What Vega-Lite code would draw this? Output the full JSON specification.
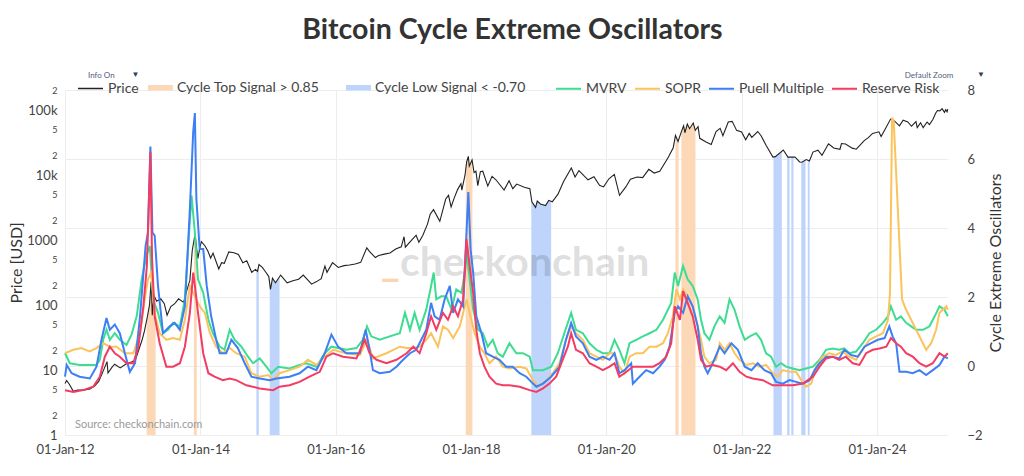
{
  "$schema": "https://vega.github.io/schema/vega-lite/v6.json",
  "width": 883,
  "height": 345,
  "autosize": {"type": "none"},
  "padding": {"left": 65, "top": 90, "right": 76, "bottom": 41},
  "background": "white",
  "title": {"text": "Bitcoin Cycle Extreme Oscillators", "font": "Lato", "fontSize": 28.5, "fontWeight": "bold", "color": "#333333", "anchor": "middle", "frame": "group", "offset": 27, "dx": 6},
  "config": {
    "view": {"stroke": null},
    "font": "Lato",
    "axis": {"labelFont": "Lato", "titleFont": "Lato"},
    "text": {"font": "Lato"},
    "legend": {"labelFont": "Lato", "labelFontSize": 14, "labelColor": "#444444", "labelOffset": 4, "padding": 0, "title": null}
  },
  "datasets": {
    "price": [
      {"d":"2012-01-01","p":6.2},{"d":"2012-01-10","p":6.9},{"d":"2012-01-25","p":6.0},{"d":"2012-02-15","p":4.7},{"d":"2012-03-10","p":4.9},{"d":"2012-04-10","p":4.9},{"d":"2012-05-15","p":5.1},{"d":"2012-06-10","p":5.7},{"d":"2012-07-01","p":6.7},{"d":"2012-07-20","p":8.9},{"d":"2012-08-15","p":13.5},{"d":"2012-08-20","p":9.0},{"d":"2012-09-10","p":11.0},{"d":"2012-09-25","p":12.3},{"d":"2012-10-25","p":10.8},{"d":"2012-11-25","p":12.4},{"d":"2012-12-25","p":13.3},
      {"d":"2013-01-15","p":14.3},{"d":"2013-02-01","p":20},{"d":"2013-02-20","p":29},{"d":"2013-03-05","p":40},{"d":"2013-03-20","p":65},{"d":"2013-04-01","p":100},{"d":"2013-04-10","p":230},{"d":"2013-04-16","p":70},{"d":"2013-04-25","p":140},{"d":"2013-05-10","p":115},{"d":"2013-06-01","p":125},{"d":"2013-06-20","p":105},{"d":"2013-07-05","p":70},{"d":"2013-07-25","p":95},{"d":"2013-08-15","p":105},{"d":"2013-09-05","p":125},{"d":"2013-10-02","p":110},{"d":"2013-10-20","p":170},{"d":"2013-11-05","p":240},{"d":"2013-11-18","p":700},{"d":"2013-11-30","p":1100},{"d":"2013-12-04","p":1150},{"d":"2013-12-18","p":520},{"d":"2013-12-28","p":740},
      {"d":"2014-01-06","p":950},{"d":"2014-01-25","p":820},{"d":"2014-02-10","p":680},{"d":"2014-02-25","p":530},{"d":"2014-03-10","p":630},{"d":"2014-04-10","p":360},{"d":"2014-04-25","p":450},{"d":"2014-05-10","p":440},{"d":"2014-06-03","p":660},{"d":"2014-07-01","p":640},{"d":"2014-07-25","p":600},{"d":"2014-08-18","p":450},{"d":"2014-09-08","p":480},{"d":"2014-10-05","p":320},{"d":"2014-10-25","p":355},{"d":"2014-11-05","p":330},{"d":"2014-11-13","p":420},{"d":"2014-12-01","p":380},{"d":"2014-12-20","p":320},
      {"d":"2015-01-05","p":275},{"d":"2015-01-14","p":175},{"d":"2015-01-25","p":260},{"d":"2015-02-10","p":220},{"d":"2015-03-10","p":290},{"d":"2015-04-14","p":220},{"d":"2015-05-15","p":237},{"d":"2015-06-15","p":250},{"d":"2015-07-10","p":290},{"d":"2015-08-24","p":210},{"d":"2015-09-20","p":230},{"d":"2015-10-15","p":255},{"d":"2015-11-04","p":400},{"d":"2015-11-15","p":320},{"d":"2015-12-15","p":450},
      {"d":"2016-01-15","p":380},{"d":"2016-02-15","p":405},{"d":"2016-03-15","p":415},{"d":"2016-04-15","p":430},{"d":"2016-05-15","p":455},{"d":"2016-06-17","p":760},{"d":"2016-07-01","p":670},{"d":"2016-08-02","p":540},{"d":"2016-08-20","p":580},{"d":"2016-09-20","p":610},{"d":"2016-10-20","p":635},{"d":"2016-11-20","p":730},{"d":"2016-12-20","p":790},
      {"d":"2017-01-04","p":1130},{"d":"2017-01-11","p":780},{"d":"2017-02-15","p":1010},{"d":"2017-03-10","p":1190},{"d":"2017-03-25","p":930},{"d":"2017-04-15","p":1180},{"d":"2017-05-10","p":1750},{"d":"2017-05-25","p":2500},{"d":"2017-06-12","p":2950},{"d":"2017-07-16","p":1950},{"d":"2017-08-05","p":3200},{"d":"2017-08-17","p":4300},{"d":"2017-09-01","p":4900},{"d":"2017-09-15","p":3250},{"d":"2017-10-01","p":4400},{"d":"2017-10-20","p":6000},{"d":"2017-11-07","p":7400},{"d":"2017-11-12","p":5900},{"d":"2017-11-29","p":10000},{"d":"2017-12-08","p":16000},{"d":"2017-12-17","p":19500},{"d":"2017-12-22","p":13800},
      {"d":"2018-01-06","p":17200},{"d":"2018-01-17","p":11000},{"d":"2018-01-27","p":11500},{"d":"2018-02-06","p":6900},{"d":"2018-02-20","p":11300},{"d":"2018-03-05","p":11500},{"d":"2018-04-01","p":6800},{"d":"2018-04-24","p":9600},{"d":"2018-05-15","p":8500},{"d":"2018-06-28","p":5900},{"d":"2018-07-25","p":8200},{"d":"2018-08-14","p":6200},{"d":"2018-09-04","p":7300},{"d":"2018-10-15","p":6500},{"d":"2018-11-14","p":6200},{"d":"2018-11-25","p":3900},{"d":"2018-12-15","p":3200},{"d":"2018-12-24","p":4000},
      {"d":"2019-01-10","p":3600},{"d":"2019-02-07","p":3400},{"d":"2019-02-24","p":4100},{"d":"2019-03-15","p":3900},{"d":"2019-04-15","p":5100},{"d":"2019-05-15","p":8000},{"d":"2019-06-26","p":12900},{"d":"2019-07-16","p":9400},{"d":"2019-08-06","p":11800},{"d":"2019-09-24","p":8500},{"d":"2019-10-26","p":9500},{"d":"2019-11-25","p":7000},{"d":"2019-12-17","p":6600},
      {"d":"2020-01-15","p":8800},{"d":"2020-02-13","p":10300},{"d":"2020-03-12","p":4900},{"d":"2020-04-15","p":6600},{"d":"2020-05-10","p":8700},{"d":"2020-06-15","p":9400},{"d":"2020-07-15","p":9200},{"d":"2020-08-17","p":12300},{"d":"2020-09-15","p":10800},{"d":"2020-10-15","p":11500},{"d":"2020-11-15","p":16000},{"d":"2020-12-01","p":19000},{"d":"2020-12-27","p":26500},
      {"d":"2021-01-08","p":40900},{"d":"2021-01-22","p":33000},{"d":"2021-02-08","p":46000},{"d":"2021-02-21","p":57500},{"d":"2021-02-28","p":45000},{"d":"2021-03-13","p":61200},{"d":"2021-03-25","p":52000},{"d":"2021-04-14","p":63500},{"d":"2021-04-25","p":49000},{"d":"2021-05-10","p":56000},{"d":"2021-05-19","p":37000},{"d":"2021-06-22","p":32500},{"d":"2021-07-20","p":29800},{"d":"2021-08-15","p":47000},{"d":"2021-09-06","p":52700},{"d":"2021-09-21","p":40700},{"d":"2021-10-20","p":66000},{"d":"2021-11-10","p":67500},{"d":"2021-12-04","p":49000},{"d":"2021-12-31","p":46300},
      {"d":"2022-01-22","p":35000},{"d":"2022-02-10","p":44000},{"d":"2022-02-24","p":38300},{"d":"2022-03-28","p":47100},{"d":"2022-04-15","p":40500},{"d":"2022-05-12","p":29000},{"d":"2022-06-18","p":19000},{"d":"2022-07-01","p":19300},{"d":"2022-08-13","p":24400},{"d":"2022-09-07","p":19000},{"d":"2022-10-15","p":19100},{"d":"2022-11-09","p":16000},{"d":"2022-11-21","p":15800},{"d":"2022-12-15","p":17400},
      {"d":"2023-01-01","p":16600},{"d":"2023-01-20","p":22700},{"d":"2023-02-16","p":24300},{"d":"2023-03-10","p":20200},{"d":"2023-04-14","p":30500},{"d":"2023-05-12","p":26300},{"d":"2023-06-15","p":25100},{"d":"2023-06-23","p":30700},{"d":"2023-07-15","p":30300},{"d":"2023-08-20","p":26100},{"d":"2023-09-11","p":25100},{"d":"2023-10-24","p":34000},{"d":"2023-11-15","p":37800},{"d":"2023-12-08","p":44000},
      {"d":"2024-01-11","p":46600},{"d":"2024-01-23","p":39500},{"d":"2024-02-15","p":52000},{"d":"2024-03-14","p":73100},{"d":"2024-04-01","p":69700},{"d":"2024-05-01","p":57600},{"d":"2024-05-21","p":70100},{"d":"2024-06-15","p":66200},{"d":"2024-07-05","p":56700},{"d":"2024-07-29","p":66800},{"d":"2024-08-05","p":54000},{"d":"2024-08-23","p":64100},{"d":"2024-09-06","p":53900},{"d":"2024-09-27","p":65800},{"d":"2024-10-10","p":60300},{"d":"2024-10-29","p":72700},{"d":"2024-11-13","p":90500},{"d":"2024-11-22","p":98900},{"d":"2024-12-05","p":98000},{"d":"2024-12-17","p":106000},{"d":"2024-12-30","p":92800},{"d":"2025-01-06","p":102000},{"d":"2025-01-13","p":94500},{"d":"2025-01-17","p":104000}
    ],
    "bands": [
      {"d":"2013-03-17","p":58,"b":"T1","sig":"Cycle Top Signal > 0.85"},{"d":"2013-03-20","p":65,"b":"T1","sig":"Cycle Top Signal > 0.85"},{"d":"2013-04-01","p":100,"b":"T1","sig":"Cycle Top Signal > 0.85"},{"d":"2013-04-10","p":230,"b":"T1","sig":"Cycle Top Signal > 0.85"},{"d":"2013-04-16","p":70,"b":"T1","sig":"Cycle Top Signal > 0.85"},{"d":"2013-04-25","p":140,"b":"T1","sig":"Cycle Top Signal > 0.85"},{"d":"2013-05-04","p":125,"b":"T1","sig":"Cycle Top Signal > 0.85"},
      {"d":"2013-11-27","p":1000,"b":"T2","sig":"Cycle Top Signal > 0.85"},{"d":"2013-11-30","p":1100,"b":"T2","sig":"Cycle Top Signal > 0.85"},{"d":"2013-12-04","p":1150,"b":"T2","sig":"Cycle Top Signal > 0.85"},{"d":"2013-12-12","p":790,"b":"T2","sig":"Cycle Top Signal > 0.85"},
      {"d":"2017-12-03","p":12700,"b":"T3","sig":"Cycle Top Signal > 0.85"},{"d":"2017-12-08","p":16000,"b":"T3","sig":"Cycle Top Signal > 0.85"},{"d":"2017-12-17","p":19500,"b":"T3","sig":"Cycle Top Signal > 0.85"},{"d":"2017-12-22","p":13800,"b":"T3","sig":"Cycle Top Signal > 0.85"},{"d":"2018-01-06","p":17200,"b":"T3","sig":"Cycle Top Signal > 0.85"},{"d":"2018-01-08","p":16100,"b":"T3","sig":"Cycle Top Signal > 0.85"},
      {"d":"2021-01-08","p":40900,"b":"T4","sig":"Cycle Top Signal > 0.85"},{"d":"2021-01-22","p":33000,"b":"T4","sig":"Cycle Top Signal > 0.85"},{"d":"2021-01-25","p":35300,"b":"T4","sig":"Cycle Top Signal > 0.85"},
      {"d":"2021-02-09","p":46900,"b":"T5","sig":"Cycle Top Signal > 0.85"},{"d":"2021-02-21","p":57500,"b":"T5","sig":"Cycle Top Signal > 0.85"},{"d":"2021-02-28","p":45000,"b":"T5","sig":"Cycle Top Signal > 0.85"},{"d":"2021-03-13","p":61200,"b":"T5","sig":"Cycle Top Signal > 0.85"},{"d":"2021-03-25","p":52000,"b":"T5","sig":"Cycle Top Signal > 0.85"},{"d":"2021-04-14","p":63500,"b":"T5","sig":"Cycle Top Signal > 0.85"},{"d":"2021-04-25","p":49000,"b":"T5","sig":"Cycle Top Signal > 0.85"},{"d":"2021-04-26","p":49600,"b":"T5","sig":"Cycle Top Signal > 0.85"},
      {"d":"2014-10-30","p":344,"b":"L1","sig":"Cycle Low Signal < -0.70"},{"d":"2014-11-05","p":330,"b":"L1","sig":"Cycle Low Signal < -0.70"},{"d":"2014-11-12","p":409,"b":"L1","sig":"Cycle Low Signal < -0.70"},
      {"d":"2015-01-10","p":219,"b":"L2","sig":"Cycle Low Signal < -0.70"},{"d":"2015-01-14","p":175,"b":"L2","sig":"Cycle Low Signal < -0.70"},{"d":"2015-01-25","p":260,"b":"L2","sig":"Cycle Low Signal < -0.70"},{"d":"2015-02-10","p":220,"b":"L2","sig":"Cycle Low Signal < -0.70"},{"d":"2015-03-04","p":275,"b":"L2","sig":"Cycle Low Signal < -0.70"},
      {"d":"2018-11-22","p":4530,"b":"L3","sig":"Cycle Low Signal < -0.70"},{"d":"2018-11-25","p":3900,"b":"L3","sig":"Cycle Low Signal < -0.70"},{"d":"2018-12-15","p":3200,"b":"L3","sig":"Cycle Low Signal < -0.70"},{"d":"2018-12-24","p":4000,"b":"L3","sig":"Cycle Low Signal < -0.70"},{"d":"2019-01-10","p":3600,"b":"L3","sig":"Cycle Low Signal < -0.70"},{"d":"2019-02-07","p":3400,"b":"L3","sig":"Cycle Low Signal < -0.70"},{"d":"2019-02-24","p":4100,"b":"L3","sig":"Cycle Low Signal < -0.70"},{"d":"2019-03-09","p":3960,"b":"L3","sig":"Cycle Low Signal < -0.70"},
      {"d":"2022-06-21","p":19070,"b":"L4","sig":"Cycle Low Signal < -0.70"},{"d":"2022-07-01","p":19300,"b":"L4","sig":"Cycle Low Signal < -0.70"},{"d":"2022-08-05","p":23450,"b":"L4","sig":"Cycle Low Signal < -0.70"},
      {"d":"2022-09-03","p":19860,"b":"L5","sig":"Cycle Low Signal < -0.70"},{"d":"2022-09-07","p":19000,"b":"L5","sig":"Cycle Low Signal < -0.70"},{"d":"2022-09-16","p":19040,"b":"L5","sig":"Cycle Low Signal < -0.70"},
      {"d":"2022-09-25","p":19070,"b":"L6","sig":"Cycle Low Signal < -0.70"},{"d":"2022-10-07","p":19100,"b":"L6","sig":"Cycle Low Signal < -0.70"},
      {"d":"2022-11-18","p":15850,"b":"L7","sig":"Cycle Low Signal < -0.70"},{"d":"2022-11-21","p":15800,"b":"L7","sig":"Cycle Low Signal < -0.70"},{"d":"2022-12-11","p":17130,"b":"L7","sig":"Cycle Low Signal < -0.70"},
      {"d":"2022-12-23","p":17020,"b":"L8","sig":"Cycle Low Signal < -0.70"},{"d":"2023-01-01","p":16600,"b":"L8","sig":"Cycle Low Signal < -0.70"},{"d":"2023-01-02","p":16920,"b":"L8","sig":"Cycle Low Signal < -0.70"}
    ],
    "mvrv": [
      {"d":"2012-01-01","v":0.37},{"d":"2012-01-27","v":0.08},{"d":"2012-03-20","v":0.03},{"d":"2012-05-14","v":0.03},{"d":"2012-06-19","v":0.03},{"d":"2012-07-07","v":0.18},{"d":"2012-07-25","v":0.76},{"d":"2012-08-12","v":1.05},{"d":"2012-08-30","v":0.76},{"d":"2012-09-26","v":0.95},{"d":"2012-10-23","v":0.76},{"d":"2012-11-28","v":0.61},{"d":"2012-12-25","v":0.91},
      {"d":"2013-01-22","v":1.44},{"d":"2013-02-18","v":2.51},{"d":"2013-03-15","v":3.19},{"d":"2013-04-03","v":3.48},{"d":"2013-04-20","v":1.93},{"d":"2013-05-17","v":1.54},{"d":"2013-06-13","v":0.95},{"d":"2013-07-10","v":1.05},{"d":"2013-08-06","v":1.25},{"d":"2013-09-12","v":1.15},{"d":"2013-10-09","v":1.93},{"d":"2013-10-26","v":3.39},{"d":"2013-11-14","v":4.94},{"d":"2013-12-02","v":3.87},{"d":"2013-12-19","v":2.51},
      {"d":"2014-01-16","v":2.12},{"d":"2014-02-13","v":1.34},{"d":"2014-03-09","v":0.95},{"d":"2014-04-15","v":0.56},{"d":"2014-05-11","v":0.47},{"d":"2014-06-08","v":1.05},{"d":"2014-07-04","v":0.76},{"d":"2014-08-10","v":0.56},{"d":"2014-09-15","v":0.27},{"d":"2014-10-12","v":0.08},{"d":"2014-11-17","v":0.22},{"d":"2014-12-23","v":-0.02},
      {"d":"2015-01-19","v":-0.21},{"d":"2015-02-24","v":-0.02},{"d":"2015-04-27","v":-0.07},{"d":"2015-06-20","v":0.03},{"d":"2015-07-26","v":0.08},{"d":"2015-09-19","v":-0.02},{"d":"2015-11-03","v":0.37},{"d":"2015-12-09","v":0.56},
      {"d":"2016-01-14","v":0.52},{"d":"2016-02-28","v":0.47},{"d":"2016-04-22","v":0.52},{"d":"2016-05-27","v":0.76},{"d":"2016-06-18","v":1.15},{"d":"2016-07-11","v":0.86},{"d":"2016-08-26","v":0.76},{"d":"2016-10-19","v":0.86},{"d":"2016-12-12","v":0.95},
      {"d":"2017-01-09","v":1.54},{"d":"2017-02-05","v":1.05},{"d":"2017-03-02","v":1.54},{"d":"2017-03-29","v":1.05},{"d":"2017-05-04","v":1.64},{"d":"2017-05-30","v":2.32},{"d":"2017-06-13","v":2.71},{"d":"2017-06-27","v":1.93},{"d":"2017-07-24","v":2.02},{"d":"2017-08-20","v":2.02},{"d":"2017-09-17","v":1.64},{"d":"2017-10-13","v":2.22},{"d":"2017-11-10","v":2.12},{"d":"2017-11-28","v":2.71},{"d":"2017-12-10","v":3.29},{"d":"2017-12-24","v":2.51},
      {"d":"2018-01-12","v":1.64},{"d":"2018-02-08","v":1.05},{"d":"2018-03-05","v":0.95},{"d":"2018-04-01","v":0.56},{"d":"2018-04-28","v":0.76},{"d":"2018-05-25","v":0.37},{"d":"2018-06-21","v":0.27},{"d":"2018-07-27","v":0.66},{"d":"2018-09-02","v":0.37},{"d":"2018-10-08","v":0.37},{"d":"2018-11-13","v":0.27},{"d":"2018-12-01","v":-0.12},
      {"d":"2019-01-24","v":-0.12},{"d":"2019-03-09","v":-0.02},{"d":"2019-04-14","v":0.37},{"d":"2019-05-19","v":0.95},{"d":"2019-06-25","v":1.54},{"d":"2019-07-21","v":1.05},{"d":"2019-08-27","v":0.95},{"d":"2019-10-02","v":0.66},{"d":"2019-11-08","v":0.47},{"d":"2019-12-13","v":0.37},
      {"d":"2020-01-18","v":0.37},{"d":"2020-02-14","v":0.76},{"d":"2020-03-11","v":0.47},{"d":"2020-04-08","v":0.08},{"d":"2020-05-05","v":0.66},{"d":"2020-06-10","v":0.76},{"d":"2020-07-16","v":0.86},{"d":"2020-08-21","v":0.95},{"d":"2020-09-27","v":1.05},{"d":"2020-11-02","v":1.34},{"d":"2020-12-16","v":1.83},
      {"d":"2021-01-04","v":2.71},{"d":"2021-01-22","v":2.32},{"d":"2021-02-18","v":2.9},{"d":"2021-03-15","v":2.51},{"d":"2021-04-11","v":2.32},{"d":"2021-05-08","v":1.93},{"d":"2021-05-26","v":1.34},{"d":"2021-06-13","v":0.95},{"d":"2021-07-10","v":0.76},{"d":"2021-08-06","v":1.15},{"d":"2021-09-04","v":1.44},{"d":"2021-09-30","v":1.25},{"d":"2021-10-27","v":1.93},{"d":"2021-11-23","v":1.63},{"d":"2021-12-20","v":1.15},
      {"d":"2022-01-17","v":0.76},{"d":"2022-02-13","v":0.86},{"d":"2022-03-19","v":0.95},{"d":"2022-04-15","v":0.76},{"d":"2022-05-12","v":0.37},{"d":"2022-06-08","v":0.27},{"d":"2022-07-05","v":-0.02},{"d":"2022-08-01","v":0.08},{"d":"2022-08-28","v":-0.02},{"d":"2022-10-03","v":-0.07},{"d":"2022-11-09","v":-0.12},{"d":"2022-12-14","v":-0.07},
      {"d":"2023-01-20","v":-0.02},{"d":"2023-02-25","v":0.18},{"d":"2023-04-01","v":0.47},{"d":"2023-05-06","v":0.51},{"d":"2023-06-11","v":0.47},{"d":"2023-07-08","v":0.51},{"d":"2023-08-05","v":0.37},{"d":"2023-09-10","v":0.42},{"d":"2023-10-16","v":0.66},{"d":"2023-11-21","v":0.95},{"d":"2023-12-27","v":1.05},
      {"d":"2024-02-02","v":1.25},{"d":"2024-02-29","v":1.44},{"d":"2024-03-16","v":1.73},{"d":"2024-04-13","v":1.34},{"d":"2024-05-09","v":1.44},{"d":"2024-06-06","v":1.25},{"d":"2024-07-03","v":1.15},{"d":"2024-07-30","v":1.05},{"d":"2024-09-05","v":1.05},{"d":"2024-10-10","v":1.15},{"d":"2024-11-07","v":1.44},{"d":"2024-12-03","v":1.73},{"d":"2024-12-30","v":1.63},{"d":"2025-01-17","v":1.44}
    ],
    "sopr": [
      {"d":"2012-01-01","v":0.37},{"d":"2012-02-15","v":0.47},{"d":"2012-03-29","v":0.52},{"d":"2012-05-14","v":0.42},{"d":"2012-06-19","v":0.52},{"d":"2012-07-25","v":0.66},{"d":"2012-08-30","v":0.56},{"d":"2012-10-05","v":0.56},{"d":"2012-11-19","v":0.37},
      {"d":"2013-01-04","v":0.37},{"d":"2013-02-09","v":0.95},{"d":"2013-03-06","v":1.93},{"d":"2013-03-24","v":2.51},{"d":"2013-04-11","v":2.71},{"d":"2013-04-29","v":1.54},{"d":"2013-05-26","v":0.95},{"d":"2013-07-01","v":0.76},{"d":"2013-08-06","v":0.81},{"d":"2013-09-12","v":0.76},{"d":"2013-10-09","v":1.34},{"d":"2013-11-05","v":2.32},{"d":"2013-11-23","v":2.12},{"d":"2013-12-10","v":1.93},{"d":"2013-12-28","v":1.73},
      {"d":"2014-01-25","v":1.54},{"d":"2014-02-21","v":0.95},{"d":"2014-03-27","v":0.56},{"d":"2014-05-02","v":0.37},{"d":"2014-06-08","v":0.52},{"d":"2014-07-13","v":0.37},{"d":"2014-08-28","v":0.27},{"d":"2014-10-03","v":-0.21},{"d":"2014-11-17","v":-0.31},
      {"d":"2015-01-02","v":-0.26},{"d":"2015-01-28","v":-0.41},{"d":"2015-03-04","v":-0.21},{"d":"2015-04-27","v":-0.12},{"d":"2015-06-20","v":-0.02},{"d":"2015-08-04","v":0.18},{"d":"2015-09-19","v":0.03},{"d":"2015-11-03","v":0.27},{"d":"2015-12-18","v":0.47},
      {"d":"2016-02-28","v":0.37},{"d":"2016-05-10","v":0.32},{"d":"2016-06-18","v":0.76},{"d":"2016-07-20","v":0.22},{"d":"2016-10-01","v":0.37},{"d":"2016-12-12","v":0.56},
      {"d":"2017-01-18","v":0.52},{"d":"2017-02-23","v":0.52},{"d":"2017-03-29","v":0.56},{"d":"2017-05-04","v":0.76},{"d":"2017-05-30","v":0.95},{"d":"2017-07-06","v":0.56},{"d":"2017-08-02","v":1.15},{"d":"2017-08-29","v":1.05},{"d":"2017-09-26","v":0.81},{"d":"2017-11-01","v":1.15},{"d":"2017-12-07","v":1.93},{"d":"2017-12-24","v":1.54},
      {"d":"2018-01-20","v":0.95},{"d":"2018-02-17","v":0.56},{"d":"2018-03-14","v":0.37},{"d":"2018-04-10","v":0.08},{"d":"2018-05-16","v":0.27},{"d":"2018-06-21","v":-0.02},{"d":"2018-07-27","v":-0.07},{"d":"2018-09-20","v":-0.02},{"d":"2018-10-26","v":-0.07},{"d":"2018-12-01","v":-0.41},{"d":"2018-12-28","v":-0.6},
      {"d":"2019-02-12","v":-0.41},{"d":"2019-03-17","v":-0.21},{"d":"2019-04-23","v":0.08},{"d":"2019-05-28","v":0.76},{"d":"2019-06-25","v":1.15},{"d":"2019-07-21","v":0.95},{"d":"2019-08-27","v":0.76},{"d":"2019-10-02","v":0.37},{"d":"2019-11-08","v":0.27},{"d":"2019-12-13","v":0.18},
      {"d":"2020-01-18","v":0.37},{"d":"2020-02-14","v":0.37},{"d":"2020-03-11","v":-0.02},{"d":"2020-04-08","v":-0.21},{"d":"2020-05-05","v":0.27},{"d":"2020-06-10","v":0.37},{"d":"2020-07-16","v":0.37},{"d":"2020-08-21","v":0.56},{"d":"2020-09-27","v":0.56},{"d":"2020-11-02","v":0.66},{"d":"2020-11-28","v":0.95},{"d":"2020-12-25","v":1.44},
      {"d":"2021-01-13","v":2.22},{"d":"2021-02-01","v":1.93},{"d":"2021-02-18","v":2.22},{"d":"2021-03-15","v":2.02},{"d":"2021-04-11","v":1.73},{"d":"2021-05-08","v":1.15},{"d":"2021-05-26","v":0.76},{"d":"2021-06-13","v":0.27},{"d":"2021-07-10","v":0.08},{"d":"2021-08-15","v":0.18},{"d":"2021-09-04","v":0.66},{"d":"2021-09-30","v":0.47},{"d":"2021-10-27","v":0.66},{"d":"2021-11-23","v":0.37},{"d":"2021-12-20","v":0.18},
      {"d":"2022-01-26","v":0.03},{"d":"2022-03-01","v":0.08},{"d":"2022-04-06","v":-0.02},{"d":"2022-05-12","v":0.03},{"d":"2022-06-17","v":-0.21},{"d":"2022-07-14","v":-0.31},{"d":"2022-08-10","v":-0.12},{"d":"2022-09-16","v":-0.17},{"d":"2022-10-21","v":-0.17},{"d":"2022-11-18","v":-0.41},{"d":"2022-12-14","v":-0.6},
      {"d":"2023-01-11","v":-0.51},{"d":"2023-02-07","v":-0.02},{"d":"2023-03-13","v":0.27},{"d":"2023-04-18","v":0.37},{"d":"2023-05-24","v":0.32},{"d":"2023-06-29","v":0.42},{"d":"2023-08-05","v":0.27},{"d":"2023-09-10","v":0.18},{"d":"2023-10-16","v":0.47},{"d":"2023-11-21","v":0.76},{"d":"2023-12-27","v":0.86},
      {"d":"2024-02-02","v":0.95},{"d":"2024-02-29","v":1.34},{"d":"2024-03-11","v":2.12},{"d":"2024-03-22","v":7.2},{"d":"2024-03-31","v":7.1},{"d":"2024-05-15","v":1.93},{"d":"2024-06-06","v":1.63},{"d":"2024-07-03","v":1.34},{"d":"2024-07-30","v":1.05},{"d":"2024-08-26","v":0.76},{"d":"2024-09-22","v":0.47},{"d":"2024-10-19","v":0.66},{"d":"2024-11-15","v":1.05},{"d":"2024-12-03","v":1.54},{"d":"2024-12-21","v":1.63},{"d":"2025-01-09","v":1.73},{"d":"2025-01-17","v":1.63}
    ],
    "puell": [
      {"d":"2012-01-01","v":-0.31},{"d":"2012-01-10","v":0.03},{"d":"2012-02-06","v":-0.21},{"d":"2012-03-20","v":-0.31},{"d":"2012-05-14","v":-0.36},{"d":"2012-06-19","v":-0.02},{"d":"2012-07-16","v":0.76},{"d":"2012-08-12","v":1.39},{"d":"2012-08-30","v":1.05},{"d":"2012-09-26","v":1.2},{"d":"2012-10-23","v":0.95},{"d":"2012-11-19","v":0.37},{"d":"2012-12-16","v":-0.17},
      {"d":"2013-01-13","v":0.08},{"d":"2013-02-09","v":1.44},{"d":"2013-03-11","v":3.48},{"d":"2013-03-24","v":3.87},{"d":"2013-04-06","v":6.36},{"d":"2013-04-17","v":3.87},{"d":"2013-04-29","v":3.78},{"d":"2013-05-17","v":2.32},{"d":"2013-06-13","v":0.95},{"d":"2013-07-19","v":1.15},{"d":"2013-08-15","v":1.25},{"d":"2013-09-12","v":1.05},{"d":"2013-10-09","v":1.73},{"d":"2013-11-05","v":4.55},{"d":"2013-11-23","v":6.79},{"d":"2013-12-02","v":7.33},{"d":"2013-12-10","v":4.85},{"d":"2013-12-28","v":3.39},
      {"d":"2014-01-16","v":3.39},{"d":"2014-02-04","v":2.32},{"d":"2014-02-28","v":1.44},{"d":"2014-03-27","v":0.76},{"d":"2014-04-15","v":0.37},{"d":"2014-05-20","v":0.37},{"d":"2014-06-17","v":0.76},{"d":"2014-07-22","v":0.52},{"d":"2014-08-28","v":0.08},{"d":"2014-10-03","v":-0.31},{"d":"2014-11-17","v":-0.36},
      {"d":"2015-01-10","v":-0.41},{"d":"2015-02-15","v":-0.36},{"d":"2015-04-27","v":-0.31},{"d":"2015-06-20","v":-0.21},{"d":"2015-08-04","v":-0.02},{"d":"2015-09-19","v":-0.12},{"d":"2015-11-03","v":0.37},{"d":"2015-12-09","v":0.91},
      {"d":"2016-01-14","v":0.56},{"d":"2016-02-28","v":0.37},{"d":"2016-05-10","v":0.37},{"d":"2016-06-11","v":1.05},{"d":"2016-07-02","v":0.47},{"d":"2016-07-20","v":-0.12},{"d":"2016-08-26","v":-0.21},{"d":"2016-10-19","v":-0.17},{"d":"2016-11-24","v":-0.02},{"d":"2016-12-30","v":0.18},
      {"d":"2017-02-05","v":0.37},{"d":"2017-03-11","v":0.47},{"d":"2017-05-04","v":1.05},{"d":"2017-05-30","v":1.83},{"d":"2017-06-18","v":1.44},{"d":"2017-07-15","v":1.34},{"d":"2017-08-11","v":1.93},{"d":"2017-09-08","v":2.32},{"d":"2017-09-26","v":1.54},{"d":"2017-10-22","v":1.93},{"d":"2017-11-19","v":1.73},{"d":"2017-12-03","v":3.39},{"d":"2017-12-17","v":5.04},{"d":"2017-12-29","v":3.39},
      {"d":"2018-01-12","v":2.71},{"d":"2018-01-29","v":1.44},{"d":"2018-02-26","v":0.95},{"d":"2018-03-23","v":0.37},{"d":"2018-04-28","v":0.27},{"d":"2018-06-03","v":0.18},{"d":"2018-07-09","v":-0.02},{"d":"2018-08-14","v":-0.02},{"d":"2018-09-20","v":-0.21},{"d":"2018-10-26","v":-0.31},{"d":"2018-12-01","v":-0.51},{"d":"2018-12-19","v":-0.6},
      {"d":"2019-01-24","v":-0.51},{"d":"2019-03-09","v":-0.31},{"d":"2019-04-23","v":-0.02},{"d":"2019-05-28","v":0.76},{"d":"2019-06-25","v":1.25},{"d":"2019-07-21","v":0.86},{"d":"2019-08-27","v":0.66},{"d":"2019-10-02","v":0.27},{"d":"2019-11-08","v":0.18},{"d":"2019-12-13","v":0.27},
      {"d":"2020-01-18","v":0.18},{"d":"2020-02-14","v":0.37},{"d":"2020-03-11","v":-0.21},{"d":"2020-04-08","v":-0.12},{"d":"2020-05-14","v":0.08},{"d":"2020-05-23","v":-0.51},{"d":"2020-06-28","v":-0.31},{"d":"2020-08-03","v":-0.12},{"d":"2020-09-09","v":-0.21},{"d":"2020-10-14","v":-0.02},{"d":"2020-11-11","v":0.18},{"d":"2020-12-07","v":0.56},
      {"d":"2021-01-04","v":1.54},{"d":"2021-01-22","v":1.73},{"d":"2021-02-18","v":1.54},{"d":"2021-03-15","v":2.02},{"d":"2021-04-11","v":1.73},{"d":"2021-05-08","v":1.15},{"d":"2021-05-26","v":0.37},{"d":"2021-06-13","v":-0.02},{"d":"2021-07-01","v":-0.21},{"d":"2021-07-28","v":0.08},{"d":"2021-09-04","v":0.56},{"d":"2021-09-30","v":0.37},{"d":"2021-11-06","v":0.66},{"d":"2021-12-11","v":0.47},
      {"d":"2022-01-17","v":-0.02},{"d":"2022-02-22","v":-0.12},{"d":"2022-03-28","v":0.08},{"d":"2022-05-03","v":-0.12},{"d":"2022-06-08","v":-0.21},{"d":"2022-07-05","v":-0.46},{"d":"2022-08-10","v":-0.51},{"d":"2022-09-16","v":-0.41},{"d":"2022-10-21","v":-0.46},{"d":"2022-11-27","v":-0.51},
      {"d":"2023-01-02","v":-0.41},{"d":"2023-01-29","v":-0.12},{"d":"2023-02-25","v":0.08},{"d":"2023-04-01","v":0.27},{"d":"2023-05-06","v":0.27},{"d":"2023-06-11","v":0.22},{"d":"2023-07-08","v":0.47},{"d":"2023-08-14","v":0.32},{"d":"2023-09-19","v":0.27},{"d":"2023-10-25","v":0.56},{"d":"2023-11-30","v":0.66},
      {"d":"2024-01-05","v":0.76},{"d":"2024-02-11","v":0.81},{"d":"2024-03-07","v":1.15},{"d":"2024-03-25","v":0.86},{"d":"2024-04-13","v":0.66},{"d":"2024-05-01","v":-0.17},{"d":"2024-06-06","v":-0.17},{"d":"2024-07-12","v":-0.21},{"d":"2024-08-17","v":-0.12},{"d":"2024-09-22","v":-0.26},{"d":"2024-10-28","v":-0.12},{"d":"2024-12-03","v":0.03},{"d":"2024-12-30","v":0.27},{"d":"2025-01-17","v":0.22}
    ],
    "rr": [
      {"d":"2012-01-01","v":-0.7},{"d":"2012-02-15","v":-0.75},{"d":"2012-04-08","v":-0.7},{"d":"2012-06-01","v":-0.6},{"d":"2012-07-07","v":-0.31},{"d":"2012-08-03","v":0.27},{"d":"2012-08-30","v":0.56},{"d":"2012-09-26","v":0.37},{"d":"2012-10-23","v":0.27},{"d":"2012-11-28","v":0.08},
      {"d":"2013-01-04","v":0.08},{"d":"2013-01-31","v":0.56},{"d":"2013-02-27","v":1.73},{"d":"2013-03-18","v":2.9},{"d":"2013-03-29","v":4.85},{"d":"2013-04-06","v":6.21},{"d":"2013-04-15","v":3.09},{"d":"2013-04-29","v":1.44},{"d":"2013-05-26","v":0.66},{"d":"2013-07-01","v":-0.02},{"d":"2013-08-06","v":-0.02},{"d":"2013-09-12","v":0.08},{"d":"2013-10-09","v":0.56},{"d":"2013-11-05","v":1.54},{"d":"2013-11-23","v":2.71},{"d":"2013-12-02","v":2.32},{"d":"2013-12-19","v":1.54},
      {"d":"2014-01-16","v":0.37},{"d":"2014-02-13","v":-0.21},{"d":"2014-03-18","v":-0.31},{"d":"2014-05-02","v":-0.41},{"d":"2014-06-08","v":-0.36},{"d":"2014-07-13","v":-0.41},{"d":"2014-09-06","v":-0.56},{"d":"2014-11-17","v":-0.65},
      {"d":"2015-01-28","v":-0.7},{"d":"2015-03-04","v":-0.6},{"d":"2015-04-27","v":-0.56},{"d":"2015-06-20","v":-0.46},{"d":"2015-08-13","v":-0.31},{"d":"2015-10-07","v":-0.17},{"d":"2015-11-12","v":0.27},{"d":"2015-12-18","v":0.37},
      {"d":"2016-02-10","v":0.27},{"d":"2016-04-22","v":0.22},{"d":"2016-06-06","v":0.76},{"d":"2016-07-02","v":0.37},{"d":"2016-08-08","v":0.18},{"d":"2016-10-01","v":0.08},{"d":"2016-11-24","v":0.18},
      {"d":"2017-01-18","v":0.37},{"d":"2017-02-23","v":0.56},{"d":"2017-03-29","v":0.37},{"d":"2017-05-04","v":0.95},{"d":"2017-05-30","v":1.44},{"d":"2017-06-27","v":1.05},{"d":"2017-08-02","v":1.54},{"d":"2017-08-29","v":1.34},{"d":"2017-09-26","v":1.73},{"d":"2017-10-22","v":1.44},{"d":"2017-11-19","v":1.93},{"d":"2017-12-07","v":3.68},{"d":"2017-12-24","v":2.9},
      {"d":"2018-01-12","v":2.12},{"d":"2018-01-29","v":1.05},{"d":"2018-02-17","v":0.37},{"d":"2018-03-14","v":-0.02},{"d":"2018-04-10","v":-0.31},{"d":"2018-05-16","v":-0.51},{"d":"2018-06-21","v":-0.56},{"d":"2018-07-27","v":-0.56},{"d":"2018-09-20","v":-0.6},{"d":"2018-11-13","v":-0.7},{"d":"2018-12-19","v":-0.75},
      {"d":"2019-01-24","v":-0.65},{"d":"2019-02-28","v":-0.51},{"d":"2019-04-05","v":-0.31},{"d":"2019-05-10","v":0.18},{"d":"2019-06-07","v":0.56},{"d":"2019-06-25","v":0.95},{"d":"2019-07-21","v":0.47},{"d":"2019-08-27","v":0.37},{"d":"2019-10-02","v":0.08},{"d":"2019-11-08","v":-0.02},{"d":"2019-12-13","v":-0.12},
      {"d":"2020-01-18","v":-0.02},{"d":"2020-02-14","v":0.08},{"d":"2020-03-11","v":-0.31},{"d":"2020-04-08","v":-0.21},{"d":"2020-05-23","v":-0.02},{"d":"2020-07-16","v":-0.02},{"d":"2020-09-09","v":-0.02},{"d":"2020-10-14","v":0.08},{"d":"2020-11-19","v":0.27},{"d":"2020-12-16","v":0.66},
      {"d":"2021-01-04","v":1.73},{"d":"2021-02-01","v":1.34},{"d":"2021-02-18","v":2.17},{"d":"2021-03-15","v":1.83},{"d":"2021-04-11","v":1.44},{"d":"2021-05-08","v":0.76},{"d":"2021-05-26","v":0.18},{"d":"2021-06-22","v":-0.02},{"d":"2021-07-28","v":0.03},{"d":"2021-09-04","v":-0.02},{"d":"2021-10-09","v":-0.12},{"d":"2021-11-14","v":0.08},{"d":"2021-12-20","v":-0.17},
      {"d":"2022-01-26","v":-0.31},{"d":"2022-03-01","v":-0.36},{"d":"2022-04-24","v":-0.41},{"d":"2022-06-17","v":-0.56},{"d":"2022-08-10","v":-0.56},{"d":"2022-10-03","v":-0.56},{"d":"2022-11-27","v":-0.51},
      {"d":"2023-01-20","v":-0.31},{"d":"2023-02-25","v":-0.02},{"d":"2023-04-01","v":0.22},{"d":"2023-05-06","v":0.27},{"d":"2023-06-11","v":0.18},{"d":"2023-07-17","v":0.27},{"d":"2023-08-23","v":0.08},{"d":"2023-09-28","v":0.03},{"d":"2023-11-03","v":0.37},{"d":"2023-12-09","v":0.47},
      {"d":"2024-01-14","v":0.51},{"d":"2024-02-20","v":0.56},{"d":"2024-03-16","v":0.81},{"d":"2024-04-13","v":0.66},{"d":"2024-05-09","v":0.56},{"d":"2024-06-06","v":0.37},{"d":"2024-07-12","v":0.27},{"d":"2024-08-17","v":0.08},{"d":"2024-09-22","v":-0.02},{"d":"2024-10-28","v":0.08},{"d":"2024-12-03","v":0.37},{"d":"2024-12-30","v":0.27},{"d":"2025-01-17","v":0.37}
    ]
  },
  "layer": [
    {
      "encoding": {
        "x": {
          "field": "d", "type": "temporal",
          "scale": {"type": "utc", "domain": [{"year": 2012, "month": 1, "date": 1, "utc": true}, {"year": 2025, "month": 1, "date": 18, "utc": true}]},
          "axis": {
            "values": [{"year": 2012, "month": 1, "date": 1, "utc": true}, {"year": 2014, "month": 1, "date": 1, "utc": true}, {"year": 2016, "month": 1, "date": 1, "utc": true}, {"year": 2018, "month": 1, "date": 1, "utc": true}, {"year": 2020, "month": 1, "date": 1, "utc": true}, {"year": 2022, "month": 1, "date": 1, "utc": true}, {"year": 2024, "month": 1, "date": 1, "utc": true}],
            "format": "%d-%b-%y", "grid": true, "gridColor": "#ededed", "ticks": false, "domain": false,
            "labelFontSize": 13, "labelColor": "#444444", "labelPadding": 8, "labelFlush": false, "title": null
          }
        },
        "y": {
          "field": "p", "type": "quantitative",
          "scale": {"type": "log", "domain": [1, 205000]},
          "axis": {
            "orient": "left",
            "values": [1, 2, 5, 10, 20, 50, 100, 200, 500, 1000, 2000, 5000, 10000, 20000, 50000, 100000, 200000],
            "labelExpr": "indexof([1,10,100,1000], datum.value) >= 0 ? datum.value + '' : datum.value == 10000 ? '10k' : datum.value == 100000 ? '100k' : slice(datum.value + '', 0, 1)",
            "labelFontSize": {"condition": {"test": "indexof([1,10,100,1000,10000,100000], datum.value) >= 0", "value": 13}, "value": 9},
            "labelColor": "#444444", "labelPadding": 8, "labelFlush": false,
            "grid": false, "ticks": false, "domain": false,
            "title": "Price [USD]", "titleFontSize": 16, "titleFontWeight": "normal", "titleColor": "#333333", "titlePadding": 2
          }
        }
      },
      "layer": [
        {
          "data": {"name": "bands"},
          "mark": {"type": "area", "opacity": 1},
          "encoding": {
            "y2": {"datum": 1},
            "detail": {"field": "b", "type": "nominal"},
            "fill": {
              "field": "sig", "type": "nominal",
              "scale": {"domain": ["Cycle Top Signal > 0.85", "Cycle Low Signal < -0.70"], "range": ["#fcd8b6", "#bed4fb"]},
              "legend": {
                "orient": "none", "legendX": 83, "legendY": -15, "direction": "horizontal",
                "symbolType": "M-1,-0.22H1V0.22H-1Z", "symbolSize": 625, "symbolStrokeWidth": 0,
                "columnPadding": 26
              }
            }
          }
        },
        {
          "data": {"name": "price"},
          "mark": {"type": "line", "strokeWidth": 1.1},
          "encoding": {
            "stroke": {
              "datum": "Price",
              "scale": {"domain": ["Price"], "range": ["#222222"]},
              "legend": {
                "orient": "none", "legendX": 12, "legendY": -15, "direction": "horizontal",
                "symbolType": "stroke", "symbolSize": 625, "symbolStrokeWidth": 1.5
              }
            }
          }
        },
        {
          "data": {"values": [{"d": "2016-12-13", "p": 279}]},
          "mark": {"type": "text", "text": "checkonchain", "font": "Lato", "fontSize": 41, "fontWeight": "bold", "color": "#000000", "opacity": 0.12, "align": "left", "baseline": "alphabetic"}
        },
        {
          "data": {"values": [{"d": "2016-12-13", "p": 279}]},
          "mark": {"type": "text", "text": "_", "font": "Lato", "fontSize": 41, "fontWeight": "bold", "color": "#fcd5b0", "align": "right", "baseline": "alphabetic"}
        }
      ]
    },
    {
      "encoding": {
        "x": {"field": "d", "type": "temporal"},
        "y": {
          "field": "v", "type": "quantitative",
          "scale": {"domain": [-2, 8], "nice": false, "zero": false},
          "axis": {
            "orient": "right", "values": [-2, 0, 2, 4, 6, 8],
            "grid": true, "gridColor": "#ededed", "ticks": false, "domain": false,
            "labelFontSize": 13, "labelColor": "#444444", "labelPadding": 19, "labelFlush": false,
            "title": "Cycle Extreme Oscillators", "titleFontSize": 16, "titleFontWeight": "normal", "titleColor": "#333333",
            "titleAngle": 270, "titleBaseline": "top", "titlePadding": 5
          }
        }
      },
      "layer": [
        {"data": {"name": "mvrv"}, "mark": {"type": "line", "strokeWidth": 2}, "encoding": {"color": {
          "datum": "MVRV",
          "scale": {"domain": ["MVRV", "SOPR", "Puell Multiple", "Reserve Risk"], "range": ["#3ddc91", "#fbc35c", "#3d7ff5", "#f43b62"]},
          "legend": {
            "orient": "none", "legendX": 490, "legendY": -15, "direction": "horizontal",
            "symbolType": "stroke", "symbolSize": 625, "symbolStrokeWidth": 2, "columnPadding": 4
          }
        }}},
        {"data": {"name": "sopr"}, "mark": {"type": "line", "strokeWidth": 2}, "encoding": {"color": {"datum": "SOPR"}}},
        {"data": {"name": "puell"}, "mark": {"type": "line", "strokeWidth": 2}, "encoding": {"color": {"datum": "Puell Multiple"}}},
        {"data": {"name": "rr"}, "mark": {"type": "line", "strokeWidth": 2}, "encoding": {"color": {"datum": "Reserve Risk"}}},
        {
          "data": {"values": [{}]},
          "mark": {"type": "rule", "color": "#111111", "strokeWidth": 1.6},
          "encoding": {"x": null, "y": {"datum": 0}}
        },
        {
          "data": {"values": [{"d": "2012-02-24", "v": -1.8}]},
          "mark": {"type": "text", "text": "Source: checkonchain.com", "fontSize": 11, "color": "#9a9a9a", "align": "left", "baseline": "alphabetic"}
        },
        {
          "data": {"values": [{"d": "2012-05-04", "v": 8.36}]},
          "mark": {"type": "text", "text": "Info On", "fontSize": 8, "color": "#51607e", "align": "left", "baseline": "alphabetic"}
        },
        {
          "data": {"values": [{"d": "2013-01-15", "v": 8.43}]},
          "mark": {"type": "text", "text": "▼", "fontSize": 8, "color": "#2f3e5e", "align": "center", "baseline": "middle"}
        },
        {
          "data": {"values": [{"d": "2024-05-30", "v": 8.36}]},
          "mark": {"type": "text", "text": "Default Zoom", "fontSize": 8, "color": "#51607e", "align": "left", "baseline": "alphabetic"}
        },
        {
          "data": {"values": [{"d": "2025-01-18", "v": 8.43}]},
          "mark": {"type": "text", "text": "▼", "fontSize": 8, "color": "#2f3e5e", "align": "center", "baseline": "middle", "dx": 33}
        }
      ]
    }
  ],
  "resolve": {"scale": {"y": "independent"}}
}
